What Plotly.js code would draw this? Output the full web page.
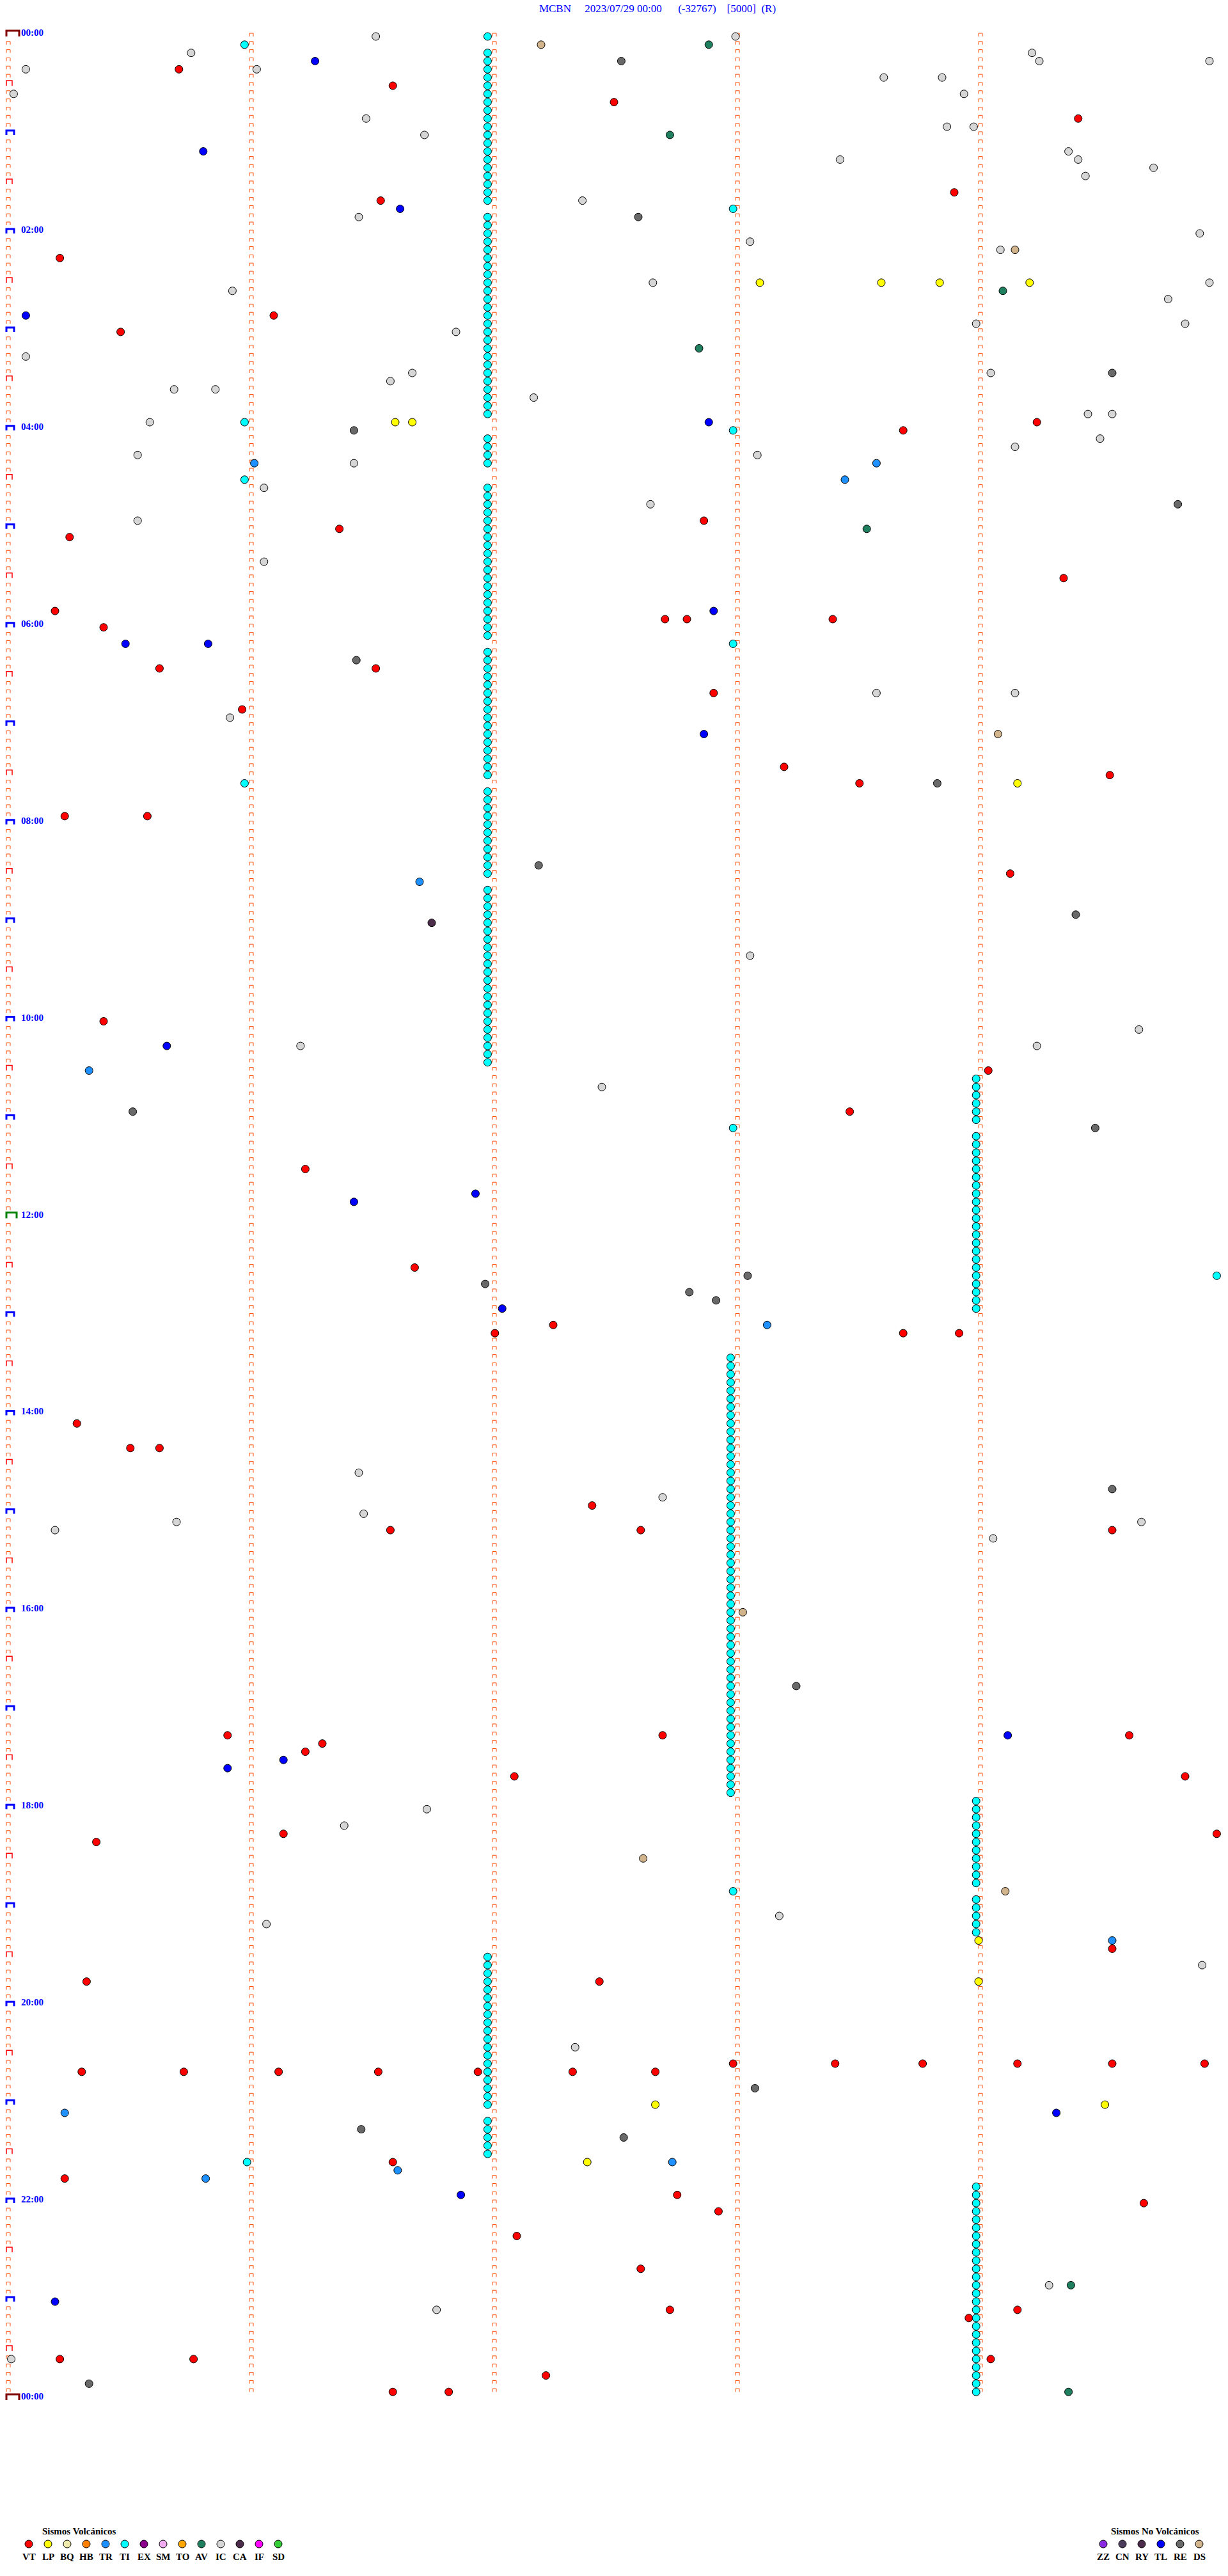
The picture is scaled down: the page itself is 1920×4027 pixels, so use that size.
<!DOCTYPE html>
<html><head><meta charset="utf-8">
<script src="https://cdn.plot.ly/plotly-3.0.1.min.js"></script>
<style>html,body{margin:0;padding:0;background:#fff}</style>
</head><body>
<div id="chart" style="width:1920px;height:4027px"></div>
<script>
// ---------------- data ----------------
const titleParts = ["MCBN", "2023/07/29 00:00", "(-32767)", "[5000]", "(R)"];
const minutesPerRow = 5;
const rowCount = 288;                 // 5-minute rows, 00:00 -> 24:00
const pulseMinutes = [0, 1, 2, 3, 4]; // minute marks on every row
const hourLabelText = ["00:00","02:00","04:00","06:00","08:00","10:00","12:00","14:00","16:00","18:00","20:00","22:00","00:00"];
const hourLabelRows = [0,24,48,72,96,120,144,168,192,216,240,264,288];
const halfHourRows = [6,18,30,42,54,66,78,90,102,114,126,138,150,162,174,186,198,210,222,234,246,258,270,282];
const hourRows = [12,24,36,48,60,72,84,96,108,120,132,156,168,180,192,204,216,228,240,252,264,276];
const noonRows = [144];
const midnightRows = [0, 288];

// event times, minutes after 00:00
const vtTimes = [20.71,31.59,42.50,54.41,98.90,101.54,135.22,171.10,180.47,239.24,243.69,297.87,301.37,305.26,334.35,
  350.20,357.71,357.80,358.40,360.40,385.63,386.52,402.91,410.97,448.20,454.54,458.51,475.24,475.58,514.13,600.40,
  634.04,658.47,691.23,751.68,787.25,792.01,793.69,793.92,845.29,860.51,860.63,897.41,911.58,912.61,914.55,
  1035.91,1037.70,1039.62,1041.30,1046.23,1062.09,1064.85,1096.14,1099.98,1100.37,1169.55,1185.33,1187.44,
  1237.99,1238.41,1238.77,1239.16,1239.55,1239.93,1240.31,1240.73,1241.12,1241.53,1241.94,1242.33,1242.67,
  1296.59,1305.24,1317.76,1324.68,1327.93,1342.10,1362.61,1387.73,1389.16,1393.96,1415.22,1415.77,1419.05,1427.22,1436.59,1436.82];
const lpTimes = [153.10,153.60,153.84,154.21,236.60,236.67,459.16,1164.00,1189.00,1262.67,1264.52,1297.39];
const bqTimes = [];
const hbTimes = [];
const trTimes = [261.02,263.58,273.45,516.70,630.34,788.13,1164.55,1265.24,1297.74,1301.61,1305.82];
const tiTimes = [5.98,107.99,235.98,242.99,270.98,372.99,455.98,667.99,759.98,1132.99,1295.99];
const tiRowsMin2 = [0,2,3,4,5,6,7,8,9,10,11,12,13,14,15,16,17,18,19,20,
  22,23,24,25,26,27,28,29,30,31,32,33,34,35,36,37,38,39,40,41,42,43,44,45,46,
  49,50,51,52,
  55,56,57,58,59,60,61,62,63,64,65,66,67,68,69,70,71,72,73,
  75,76,77,78,79,80,81,82,83,84,85,86,87,88,89,90,
  92,93,94,95,96,97,98,99,100,101,102,
  104,105,106,107,108,109,110,111,112,113,114,115,116,117,118,119,120,121,122,123,124,125,
  234,235,236,237,238,239,240,241,242,243,244,245,246,247,248,249,250,251,252,
  254,255,256,257,258];
const tiRowsMin3 = [161,162,163,164,165,166,167,168,169,170,171,172,173,174,175,176,177,178,179,180,
  181,182,183,184,185,186,187,188,189,190,191,192,193,194,195,196,197,198,199,200,
  201,202,203,204,205,206,207,208,209,210,211,212,213,214];
const tiRowsMin4 = [127,128,129,130,131,132,134,135,136,137,138,139,140,141,142,143,144,145,146,147,148,149,150,
  151,152,153,154,155,
  215,216,217,218,219,220,221,222,223,224,225,227,228,229,230,231,
  262,263,264,265,266,267,268,269,270,271,272,273,274,275,276,277,278,279,280,281,282,283,284,285,286,287];
const tiChainMinute = [1.98, 2.98, 3.99];
const exTimes = [];
const smTimes = [];
const toTimes = [];
const avTimes = [7.89,62.73,159.10,192.85,303.54,1374.38,1439.37];
const icTimes = [1.52,3.00,10.76,14.22,19.25,19.95,20.08,21.03,28.61,28.85,35.03,38.94,51.48,58.87,58.98,61.72,
  74.37,78.43,79.41,84.72,89.44,102.37,111.45,124.91,128.06,134.09,152.66,154.95,155.93,164.78,178.99,179.85,
  181.85,195.08,206.67,209.05,211.58,215.69,215.86,222.17,234.45,234.55,235.59,249.50,254.15,255.54,258.09,
  261.43,276.06,287.65,295.54,321.06,403.58,404.15,415.92,563.06,609.66,616.21,619.24,642.45,876.45,892.70,
  901.47,905.70,909.67,910.20,919.06,1081.73,1091.39,1148.18,1151.07,1179.92,1227.34,1374.29,1386.77,1415.02];
const caTimes = [541.75];
const ifTimes = [];
const sdTimes = [];
const zzTimes = [];
const cnTimes = [];
const ryTimes = [];
const tlTimes = [16.27,70.81,106.62,170.08,237.89,352.91,370.49,370.83,427.87,615.66,706.93,711.43,777.04,
  1039.12,1051.14,1055.91,1269.32,1316.87,1380.20];
const reTimes = [17.53,112.60,209.55,241.43,289.82,381.44,458.83,507.19,539.40,655.52,669.48,758.05,761.97,
  767.81,772.92,889.55,1008.25,1253.08,1276.46,1282.54,1430.34];
const dsTimes = [7.20,134.15,429.08,963.03,1112.62,1134.11];

const volcTypes  = ["VT","LP","BQ","HB","TR","TI","EX","SM","TO","AV","IC","CA","IF","SD"];
const volcColors = ["#FF0000","#FFFF00","#EEE8AA","#FF8000","#1E90FF","#00FFFF","#8B008B","#EEAAEE","#FFA500","#1F7F5F","#D6D6D6","#4B2D4B","#FF00FF","#32CD32"];
const nonVolcTypes  = ["ZZ","CN","RY","TL","RE","DS"];
const nonVolcColors = ["#8A2BE2","#4B3B5B","#4B2D4B","#0000FF","#696969","#D2B48C"];

// ---------------- geometry (pixels) ----------------
const W = 1920, H = 4027;
const X0 = 10, PX_PER_MIN = 380;
const Y0 = 57, PX_PER_ROW = 12.83;
const dx = p => p / PX_PER_MIN;   // pixel width -> minutes
const dy = p => p / PX_PER_ROW;   // pixel height -> rows

const tiAll = tiTimes
  .concat(tiRowsMin2.map(r => r * minutesPerRow + tiChainMinute[0]))
  .concat(tiRowsMin3.map(r => r * minutesPerRow + tiChainMinute[1]))
  .concat(tiRowsMin4.map(r => r * minutesPerRow + tiChainMinute[2]));

const timesByType = {
  VT: vtTimes, LP: lpTimes, BQ: bqTimes, HB: hbTimes, TR: trTimes, TI: tiAll, EX: exTimes, SM: smTimes,
  TO: toTimes, AV: avTimes, IC: icTimes, CA: caTimes, IF: ifTimes, SD: sdTimes,
  ZZ: zzTimes, CN: cnTimes, RY: ryTimes, TL: tlTimes, RE: reTimes, DS: dsTimes
};

function pulses(rows, minutes, wPx, hPx) {
  const x = [], y = [];
  rows.forEach(r => minutes.forEach(m => {
    x.push(m, m, m + dx(wPx), m + dx(wPx), null);
    y.push(r, r - dy(hPx), r - dy(hPx), r, null);
  }));
  return {x, y};
}

const special = new Set([].concat(halfHourRows, hourRows, noonRows, midnightRows));
const normX = [], normY = [];
for (let r = 0; r < rowCount; r++) {
  pulseMinutes.forEach(m => {
    if (m === 0 && special.has(r)) return;
    normX.push(m, m, m + dx(6), m + dx(6), null);
    normY.push(r, r - dy(5), r - dy(5), r, null);
  });
}

const traces = [];
traces.push({type:'scatter', mode:'lines', x:normX, y:normY, line:{color:'#FF4A00', width:1}, hoverinfo:'skip', showlegend:false});
const hh = pulses(halfHourRows, [0], 9, 8);
traces.push({type:'scatter', mode:'lines', x:hh.x, y:hh.y, line:{color:'#FF0000', width:1.5}, hoverinfo:'skip', showlegend:false});
const hr = pulses(hourRows, [0], 12, 7);
traces.push({type:'scatter', mode:'lines', x:hr.x, y:hr.y, line:{color:'#0000FF', width:3}, hoverinfo:'skip', showlegend:false});
const nn = pulses(noonRows, [0], 16, 9);
traces.push({type:'scatter', mode:'lines', x:nn.x, y:nn.y, line:{color:'#008000', width:3}, hoverinfo:'skip', showlegend:false});
const md = pulses(midnightRows, [0], 20, 9);
traces.push({type:'scatter', mode:'lines', x:md.x, y:md.y, line:{color:'#800000', width:3}, hoverinfo:'skip', showlegend:false});

const allTypes = volcTypes.concat(nonVolcTypes);
const allColors = volcColors.concat(nonVolcColors);
allTypes.forEach((t, i) => {
  const ts = timesByType[t];
  if (!ts.length) return;
  const rows = ts.map(v => Math.floor(v / minutesPerRow));
  traces.push({
    type:'scatter', mode:'markers', name:t,
    x: ts.map((v, j) => v - rows[j] * minutesPerRow), y: rows,
    marker:{symbol:'circle', size:12, color:allColors[i], line:{color:'#000', width:1}},
    showlegend:false
  });
});

// legend (pixel axes)
traces.push({type:'scatter', mode:'markers', xaxis:'x2', yaxis:'y2',
  x: volcTypes.map((_, i) => 45 + 30 * i), y: volcTypes.map(() => 3977),
  marker:{size:12, color:volcColors, line:{color:'#000', width:1}}, hoverinfo:'skip', showlegend:false});
traces.push({type:'scatter', mode:'markers', xaxis:'x2', yaxis:'y2',
  x: nonVolcTypes.map((_, i) => 1725 + 30 * i), y: nonVolcTypes.map(() => 3977),
  marker:{size:12, color:nonVolcColors, line:{color:'#000', width:1}}, hoverinfo:'skip', showlegend:false});

const serif = 'Liberation Serif, Times New Roman, serif';
const annotations = [];
hourLabelText.forEach((txt, i) => annotations.push({
  xref:'x', yref:'y', x:0, y:hourLabelRows[i], text:'<b>' + txt + '</b>', showarrow:false,
  xanchor:'left', yanchor:'middle', xshift:21, yshift:6,
  font:{family:serif, size:15, color:'#0000FF'}
}));
annotations.push({xref:'x2', yref:'y2', x:124, y:3957, text:'<b>Sismos Volcánicos</b>', showarrow:false,
  xanchor:'center', yanchor:'middle', font:{family:serif, size:15, color:'#000'}});
annotations.push({xref:'x2', yref:'y2', x:1806, y:3957, text:'<b>Sismos No Volcánicos</b>', showarrow:false,
  xanchor:'center', yanchor:'middle', font:{family:serif, size:15, color:'#000'}});
volcTypes.forEach((t, i) => annotations.push({xref:'x2', yref:'y2', x:45 + 30 * i, y:3997, text:'<b>' + t + '</b>',
  showarrow:false, xanchor:'center', yanchor:'middle', font:{family:serif, size:15, color:'#000'}}));
nonVolcTypes.forEach((t, i) => annotations.push({xref:'x2', yref:'y2', x:1725 + 30 * i, y:3997, text:'<b>' + t + '</b>',
  showarrow:false, xanchor:'center', yanchor:'middle', font:{family:serif, size:15, color:'#000'}}));

const sp = n => '\u00a0'.repeat(n);
const titleText = titleParts[0] + sp(5) + titleParts[1] + sp(6) + titleParts[2] + sp(4) + titleParts[3] + sp(2) + titleParts[4];

const layout = {
  width: W, height: H,
  margin:{l:0, r:0, t:0, b:0, pad:0},
  paper_bgcolor:'#fff', plot_bgcolor:'#fff',
  showlegend:false,
  title:{text:titleText, x:1028 / W, xanchor:'center', xref:'paper', y:1 - 13 / H, yanchor:'middle', yref:'container',
    font:{family:serif, size:17, color:'#0000FF'}},
  xaxis:{range:[-X0 / PX_PER_MIN, (W - X0) / PX_PER_MIN], visible:false, fixedrange:true},
  yaxis:{range:[(H - Y0) / PX_PER_ROW, -Y0 / PX_PER_ROW], visible:false, fixedrange:true},
  xaxis2:{range:[0, W], overlaying:'x', visible:false, anchor:'y2'},
  yaxis2:{range:[H, 0], overlaying:'y', visible:false, anchor:'x2'},
  annotations: annotations
};

Plotly.newPlot('chart', traces, layout, {staticPlot:true, displayModeBar:false});
</script>
</body></html>
